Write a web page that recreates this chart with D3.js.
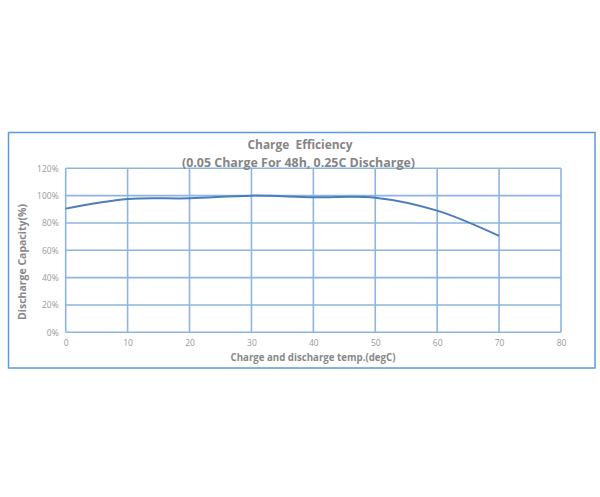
<!DOCTYPE html>
<html><head><meta charset="utf-8">
<script src="https://cdn.jsdelivr.net/npm/d3@7"></script>
<style>body{margin:0;background:#fff}</style>
</head><body>
<script>
const temps = [0, 10, 20, 30, 40, 50, 60, 70];
const capacity = [90.5, 97.5, 98, 100, 98.8, 98.5, 89, 70.5];
const xTicks = [0, 10, 20, 30, 40, 50, 60, 70, 80];
const yTicks = [0, 20, 40, 60, 80, 100, 120];
const titleLines = ["Charge  Efficiency", "(0.05 Charge For 48h, 0.25C Discharge)"];
const xTitle = "Charge and discharge temp.(degC)";
const yTitle = "Discharge Capacity(%)";

const W = 600, H = 497;
const svg = d3.select("body").append("svg").attr("width", W).attr("height", H);
const font = "'Open Sans', 'Liberation Sans', sans-serif";

svg.append("rect").attr("x", 8.5).attr("y", 132.5).attr("width", 586.5).attr("height", 235.5)
  .attr("fill", "#fff").attr("stroke", "#5B9BD5").attr("stroke-width", 1.5);

const x = d3.scaleLinear().domain([0, 80]).range([65.7, 561]);
const y = d3.scaleLinear().domain([0, 120]).range([332.3, 168.3]);

const grid = svg.append("g");
grid.selectAll("line.v").data(xTicks).join("line")
  .attr("x1", d => x(d)).attr("x2", d => x(d)).attr("y1", y(120)).attr("y2", y(0))
  .attr("stroke", "#8DB4E2").attr("stroke-width", 1.6);
grid.selectAll("line.h").data(yTicks).join("line")
  .attr("x1", x(0)).attr("x2", x(80)).attr("y1", d => y(d)).attr("y2", d => y(d))
  .attr("stroke", "#8DB4E2").attr("stroke-width", 1.6);

const yAxis = d3.axisLeft(y).tickValues(yTicks).tickFormat(d => d + "%").tickSize(0).tickPadding(7);
const gy = svg.append("g").attr("transform", `translate(${x(0)},0)`).call(yAxis);
gy.select(".domain").remove();
gy.selectAll("text").attr("fill", "#999").attr("font-size", 8.5).attr("font-family", font);

const xAxis = d3.axisBottom(x).tickValues(xTicks).tickSize(0).tickPadding(8);
const gx = svg.append("g").attr("transform", `translate(0,${y(0)})`).call(xAxis);
gx.select(".domain").remove();
gx.selectAll("text").attr("fill", "#999").attr("font-size", 8.5).attr("font-family", font);

const line = d3.line().x((d, i) => x(temps[i])).y(d => y(d)).curve(d3.curveCatmullRom.alpha(0.5));
svg.append("path").datum(capacity).attr("d", line)
  .attr("fill", "none").attr("stroke", "#4A7EBB").attr("stroke-width", 2);

svg.append("text").attr("x", 300).attr("y", 149).attr("text-anchor", "middle")
  .attr("font-family", font).attr("font-weight", "bold").attr("font-size", 12.5).attr("fill", "#858585")
  .attr("textLength", 105).attr("lengthAdjust", "spacingAndGlyphs").style("white-space", "pre")
  .text(titleLines[0]);
svg.append("text").attr("x", 298.5).attr("y", 167).attr("text-anchor", "middle")
  .attr("font-family", font).attr("font-weight", "bold").attr("font-size", 12.5).attr("fill", "#858585")
  .attr("textLength", 233).attr("lengthAdjust", "spacingAndGlyphs")
  .text(titleLines[1]);

svg.append("text").attr("x", 313).attr("y", 361).attr("text-anchor", "middle")
  .attr("font-family", font).attr("font-weight", "bold").attr("font-size", 10).attr("fill", "#888")
  .attr("textLength", 165).attr("lengthAdjust", "spacingAndGlyphs").text(xTitle);

svg.append("text").attr("transform", "translate(26,262) rotate(-90)").attr("text-anchor", "middle")
  .attr("font-family", font).attr("font-weight", "bold").attr("font-size", 10).attr("fill", "#888")
  .attr("textLength", 116).attr("lengthAdjust", "spacingAndGlyphs").text(yTitle);
</script>
</body></html>
